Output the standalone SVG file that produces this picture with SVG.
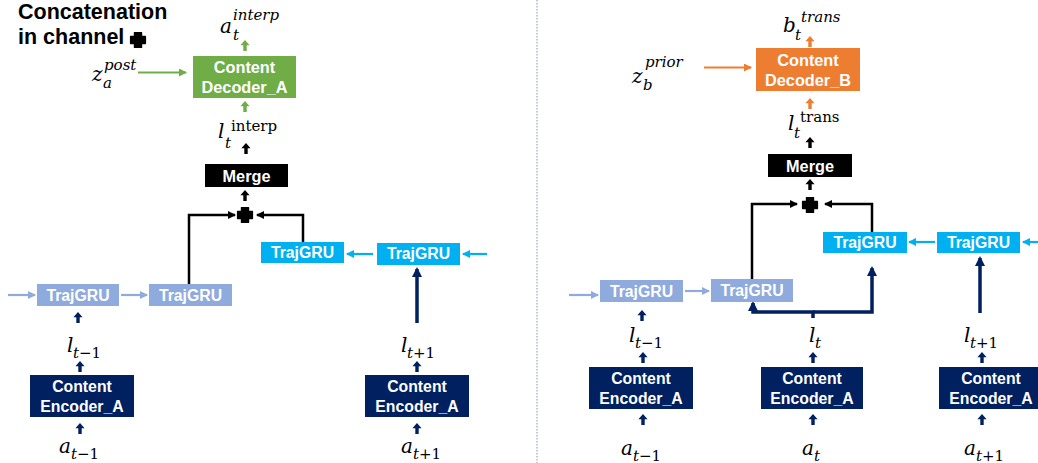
<svg xmlns="http://www.w3.org/2000/svg" xmlns:xlink="http://www.w3.org/1999/xlink" width="1038" height="463" viewBox="0 0 1038 463">
<style>
.box{font-family:"Liberation Sans",Arial,sans-serif;font-weight:bold;fill:#fff;text-anchor:middle}
.b15{font-size:15.8px}
.b16{font-size:16.3px}
.m{font-family:"DejaVu Serif","Liberation Serif",serif;font-style:italic;fill:#000}
.mb{font-size:20px}
.ms{font-size:15px}
.up{font-style:normal}
.title{font-family:"Liberation Sans",Arial,sans-serif;font-weight:bold;font-size:21.5px;fill:#000}
.ln{fill:none}
</style>
<defs>
<path id="ua" d="M0,0 L4.6,5.2 L1.7,5.2 L1.7,11 L-1.7,11 L-1.7,5.2 L-4.6,5.2 Z"/>
<path id="plus" d="M-3.6,-7.5 H3.6 V-3.6 H7.5 V3.6 H3.6 V7.5 H-3.6 V3.6 H-7.5 V-3.6 H-3.6 Z" stroke="#000" stroke-width="1.2" stroke-linejoin="round"/>
<marker id="mG" markerUnits="userSpaceOnUse" markerWidth="10" markerHeight="10" refX="7" refY="4" orient="auto"><path d="M0,0 L8,4 L0,8 Z" fill="#70AD47"/></marker>
<marker id="mO" markerUnits="userSpaceOnUse" markerWidth="10" markerHeight="10" refX="7" refY="4" orient="auto"><path d="M0,0 L8,4 L0,8 Z" fill="#ED7D31"/></marker>
<marker id="mL" markerUnits="userSpaceOnUse" markerWidth="10" markerHeight="10" refX="7" refY="4" orient="auto"><path d="M0,0 L8,4 L0,8 Z" fill="#8FAADC"/></marker>
<marker id="mB" markerUnits="userSpaceOnUse" markerWidth="10" markerHeight="10" refX="7" refY="4" orient="auto"><path d="M0,0 L8,4 L0,8 Z" fill="#00B0F0"/></marker>
<marker id="mK" markerUnits="userSpaceOnUse" markerWidth="10" markerHeight="10" refX="7" refY="4" orient="auto"><path d="M0,0 L8,4 L0,8 Z" fill="#000"/></marker>
<marker id="mN" markerUnits="userSpaceOnUse" markerWidth="12" markerHeight="12" refX="8" refY="5" orient="auto"><path d="M0,0 L10,5 L0,10 Z" fill="#002060"/></marker>
</defs>
<rect width="1038" height="463" fill="#fff"/>

<!-- divider -->
<line x1="537" y1="0" x2="537" y2="463" stroke="#AEB8CF" stroke-width="1.5" stroke-dasharray="1.5 1.5"/>

<!-- title -->
<g id="legend">
<text class="title" x="18" y="19">Concatenation</text>
<text class="title" x="18" y="44">in channel</text>
<use href="#plus" x="138" y="40"/>
</g>

<!-- connectors -->
<g id="connectors" class="ln">
<!-- left -->
<line x1="138" y1="72.5" x2="186" y2="72.5" stroke="#70AD47" stroke-width="2.2" marker-end="url(#mG)"/>
<path d="M189,284 V215 H235" stroke="#000" stroke-width="2.5" marker-end="url(#mK)"/>
<path d="M303,242 V215 H257" stroke="#000" stroke-width="2.5" marker-end="url(#mK)"/>
<line x1="8" y1="295" x2="35" y2="295" stroke="#8FAADC" stroke-width="2.2" marker-end="url(#mL)"/>
<line x1="121" y1="295" x2="147" y2="295" stroke="#8FAADC" stroke-width="2.2" marker-end="url(#mL)"/>
<line x1="487" y1="254" x2="463" y2="254" stroke="#00B0F0" stroke-width="2.2" marker-end="url(#mB)"/>
<line x1="373" y1="254" x2="347" y2="254" stroke="#00B0F0" stroke-width="2.2" marker-end="url(#mB)"/>
<line x1="417" y1="323" x2="417" y2="269" stroke="#002060" stroke-width="3.5" marker-end="url(#mN)"/>
<g stroke="none" fill="#70AD47"><use href="#ua" x="245" y="40"/><use href="#ua" x="245" y="101"/></g>
<g stroke="none" fill="#000"><use href="#ua" x="246" y="143"/><use href="#ua" x="245" y="190"/></g>
<g stroke="none" fill="#002060">
<use href="#ua" x="78" y="312"/><use href="#ua" x="80" y="361"/><use href="#ua" x="80" y="423"/>
<use href="#ua" x="417" y="361"/><use href="#ua" x="417" y="423"/>
</g>
<!-- right -->
<line x1="704" y1="67.5" x2="751" y2="67.5" stroke="#ED7D31" stroke-width="2.2" marker-end="url(#mO)"/>
<path d="M752,279 V204 H797" stroke="#000" stroke-width="2.5" marker-end="url(#mK)"/>
<path d="M872,232 V204 H825" stroke="#000" stroke-width="2.5" marker-end="url(#mK)"/>
<line x1="569" y1="295" x2="598" y2="295" stroke="#8FAADC" stroke-width="2.2" marker-end="url(#mL)"/>
<line x1="685" y1="291" x2="709" y2="291" stroke="#8FAADC" stroke-width="2.2" marker-end="url(#mL)"/>
<line x1="1040" y1="242" x2="1023" y2="242" stroke="#00B0F0" stroke-width="2.2" marker-end="url(#mB)"/>
<line x1="935" y1="242" x2="909" y2="242" stroke="#00B0F0" stroke-width="2.2" marker-end="url(#mB)"/>
<path d="M813,318 V312 H753 V303" stroke="#002060" stroke-width="3.5" marker-end="url(#mN)"/>
<path d="M813,312 H872 V268" stroke="#002060" stroke-width="3.5" marker-end="url(#mN)"/>
<line x1="980" y1="313" x2="980" y2="258" stroke="#002060" stroke-width="3.5" marker-end="url(#mN)"/>
<g stroke="none" fill="#ED7D31"><use href="#ua" x="810" y="36"/><use href="#ua" x="810" y="98"/></g>
<g stroke="none" fill="#000"><use href="#ua" x="810" y="137"/><use href="#ua" x="810" y="179"/></g>
<g stroke="none" fill="#002060">
<use href="#ua" x="642" y="310"/><use href="#ua" x="643" y="352"/><use href="#ua" x="643" y="414"/>
<use href="#ua" x="813" y="352"/><use href="#ua" x="813" y="414"/>
<use href="#ua" x="982" y="352"/><use href="#ua" x="982" y="414"/>
</g>
</g>

<!-- LEFT nodes -->
<g id="decoderA"><rect x="193" y="56" width="103" height="42" fill="#70AD47"/>
<text class="box b16" x="244.5" y="73">Content</text><text class="box b16" x="244.5" y="93">Decoder_A</text></g>
<g id="mergeL"><rect x="205" y="164" width="83" height="23" fill="#000"/><text class="box b16" x="246.5" y="182">Merge</text></g>
<g id="plusL"><use href="#plus" x="245" y="215"/></g>
<g id="trajL1"><rect x="37" y="284" width="82" height="22" fill="#8FAADC"/><text class="box b15" x="78" y="301">TrajGRU</text></g>
<g id="trajL2"><rect x="149" y="284" width="83" height="22" fill="#8FAADC"/><text class="box b15" x="190.5" y="301">TrajGRU</text></g>
<g id="trajL3"><rect x="261" y="242" width="83" height="21" fill="#00B0F0"/><text class="box b15" x="302.5" y="258">TrajGRU</text></g>
<g id="trajL4"><rect x="377" y="243" width="83" height="22" fill="#00B0F0"/><text class="box b15" x="418.5" y="259">TrajGRU</text></g>
<g id="encL1"><rect x="30" y="375" width="104" height="42" fill="#002060"/>
<text class="box b15" x="82" y="392">Content</text><text class="box b15" x="82" y="412">Encoder_A</text></g>
<g id="encL2"><rect x="365" y="375" width="104" height="42" fill="#002060"/>
<text class="box b15" x="417" y="392">Content</text><text class="box b15" x="417" y="412">Encoder_A</text></g>

<!-- LEFT labels -->
<g id="lblL">
<text class="m mb" x="220" y="33">a</text><text class="m ms" x="233" y="40">t</text><text class="m ms" x="233" y="20">interp</text>
<text class="m mb" x="92" y="81">z</text><text class="m ms" x="103" y="88">a</text><text class="m ms" x="104" y="70">post</text>
<text class="m mb" x="218" y="138">l</text><text class="m ms" x="225" y="148">t</text><text class="m ms up" x="231" y="131">interp</text>
<text class="m mb" x="67" y="352">l</text><text class="m ms" x="73" y="358">t<tspan class="up">−1</tspan></text>
<text class="m mb" x="59" y="453">a</text><text class="m ms" x="71" y="459">t<tspan class="up">−1</tspan></text>
<text class="m mb" x="401" y="352">l</text><text class="m ms" x="407" y="358">t<tspan class="up">+1</tspan></text>
<text class="m mb" x="401" y="453">a</text><text class="m ms" x="413" y="459">t<tspan class="up">+1</tspan></text>
</g>

<!-- RIGHT nodes -->
<g id="decoderB"><rect x="756" y="48" width="104" height="43" fill="#ED7D31"/>
<text class="box b16" x="808" y="66">Content</text><text class="box b16" x="808" y="86">Decoder_B</text></g>
<g id="mergeR"><rect x="768" y="154" width="84" height="23" fill="#000"/><text class="box b16" x="810" y="172">Merge</text></g>
<g id="plusR"><use href="#plus" x="810" y="205"/></g>
<g id="trajR1"><rect x="600" y="280" width="83" height="22" fill="#8FAADC"/><text class="box b15" x="641.5" y="297">TrajGRU</text></g>
<g id="trajR2"><rect x="711" y="279" width="82" height="23" fill="#8FAADC"/><text class="box b15" x="752" y="296">TrajGRU</text></g>
<g id="trajR3"><rect x="823" y="232" width="84" height="21" fill="#00B0F0"/><text class="box b15" x="865" y="248">TrajGRU</text></g>
<g id="trajR4"><rect x="937" y="232" width="83" height="21" fill="#00B0F0"/><text class="box b15" x="978.5" y="248">TrajGRU</text></g>
<g id="encR1"><rect x="589" y="367" width="104" height="42" fill="#002060"/>
<text class="box b15" x="641" y="384">Content</text><text class="box b15" x="641" y="404">Encoder_A</text></g>
<g id="encR2"><rect x="761" y="367" width="102" height="42" fill="#002060"/>
<text class="box b15" x="812" y="384">Content</text><text class="box b15" x="812" y="404">Encoder_A</text></g>
<g id="encR3"><rect x="939" y="367" width="104" height="42" fill="#002060"/>
<text class="box b15" x="991" y="384">Content</text><text class="box b15" x="991" y="404">Encoder_A</text></g>

<!-- RIGHT labels -->
<g id="lblR">
<text class="m mb" x="783" y="32">b</text><text class="m ms" x="795" y="40">t</text><text class="m ms" x="801" y="22">trans</text>
<text class="m mb" x="632" y="83">z</text><text class="m ms" x="643" y="90">b</text><text class="m ms" x="645" y="67">prior</text>
<text class="m mb" x="788" y="130">l</text><text class="m ms" x="794" y="138">t</text><text class="m ms up" x="800" y="122">trans</text>
<text class="m mb" x="629" y="342">l</text><text class="m ms" x="635" y="348">t<tspan class="up">−1</tspan></text>
<text class="m mb" x="809" y="342">l</text><text class="m ms" x="815" y="348">t</text>
<text class="m mb" x="964" y="342">l</text><text class="m ms" x="970" y="348">t<tspan class="up">+1</tspan></text>
<text class="m mb" x="621" y="455">a</text><text class="m ms" x="633" y="461">t<tspan class="up">−1</tspan></text>
<text class="m mb" x="802" y="455">a</text><text class="m ms" x="814" y="461">t</text>
<text class="m mb" x="964" y="455">a</text><text class="m ms" x="976" y="461">t<tspan class="up">+1</tspan></text>
</g>
</svg>
